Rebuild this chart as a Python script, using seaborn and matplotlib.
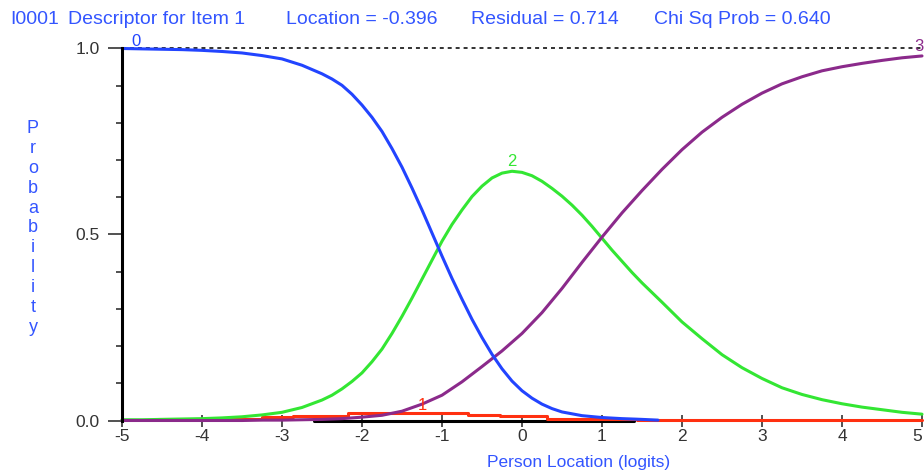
import numpy as np
import pandas as pd
import seaborn as sns
import matplotlib
matplotlib.use("Agg")
import matplotlib.pyplot as plt
from matplotlib.ticker import MultipleLocator

# category probability curves (x in logits)
x0 = [-5.0, -4.75, -4.5, -4.25, -4.0, -3.75, -3.5, -3.25, -3.0, -2.75,
      -2.5, -2.375, -2.25, -2.125, -2.0, -1.875, -1.75, -1.625, -1.5, -1.375,
      -1.25, -1.125, -1.0, -0.875, -0.75, -0.625, -0.5, -0.375, -0.25, -0.125,
      0.0, 0.125, 0.25, 0.375, 0.5, 0.75, 1.0, 1.25, 1.5, 1.7]
p0 = [1.000, 0.999, 0.998, 0.997, 0.995, 0.992, 0.988, 0.981, 0.972, 0.955,
      0.932, 0.918, 0.901, 0.877, 0.848, 0.815, 0.777, 0.731, 0.681, 0.625,
      0.566, 0.504, 0.442, 0.382, 0.326, 0.272, 0.223, 0.178, 0.139, 0.106,
      0.080, 0.060, 0.044, 0.032, 0.023, 0.013, 0.008, 0.005, 0.003, 0.001]

x2 = [-5.0, -4.75, -4.5, -4.25, -4.0, -3.75, -3.5, -3.25, -3.0, -2.75,
      -2.5, -2.375, -2.25, -2.125, -2.0, -1.875, -1.75, -1.625, -1.5, -1.375,
      -1.25, -1.125, -1.0, -0.875, -0.75, -0.625, -0.5, -0.375, -0.25, -0.125,
      0.0, 0.125, 0.25, 0.375, 0.5, 0.625, 0.75, 0.875, 1.0, 1.125,
      1.25, 1.375, 1.5, 1.75, 2.0, 2.25, 2.5, 2.75, 3.0, 3.25,
      3.5, 3.75, 4.0, 4.25, 4.5, 4.75, 5.0]
p2 = [0.002, 0.002, 0.003, 0.004, 0.005, 0.007, 0.010, 0.015, 0.022, 0.035,
      0.055, 0.068, 0.085, 0.105, 0.128, 0.158, 0.192, 0.234, 0.280, 0.329,
      0.380, 0.431, 0.482, 0.527, 0.566, 0.602, 0.630, 0.652, 0.665, 0.670,
      0.667, 0.658, 0.643, 0.624, 0.603, 0.579, 0.552, 0.522, 0.490, 0.458,
      0.428, 0.398, 0.370, 0.318, 0.265, 0.220, 0.177, 0.142, 0.113, 0.088,
      0.070, 0.056, 0.045, 0.036, 0.029, 0.022, 0.017]

x3 = [-5.0, -4.75, -4.5, -4.25, -4.0, -3.75, -3.5, -3.25, -3.0, -2.75,
      -2.5, -2.25, -2.0, -1.75, -1.5, -1.25, -1.0, -0.75, -0.5, -0.25,
      0.0, 0.25, 0.5, 0.75, 1.0, 1.25, 1.5, 1.75, 2.0, 2.25,
      2.5, 2.75, 3.0, 3.25, 3.5, 3.75, 4.0, 4.25, 4.5, 4.75, 5.0]
p3 = [0.000, 0.000, 0.000, 0.000, 0.000, 0.000, 0.000, 0.001, 0.001, 0.002,
      0.003, 0.005, 0.009, 0.014, 0.025, 0.044, 0.068, 0.104, 0.145, 0.187,
      0.234, 0.290, 0.355, 0.425, 0.493, 0.558, 0.618, 0.675, 0.728, 0.775,
      0.815, 0.850, 0.880, 0.905, 0.924, 0.940, 0.951, 0.960, 0.968, 0.975,
      0.980]

# category 1 is drawn as a step line
red_edges = [-4.55, -3.25, -2.86, -2.17, -0.67, -0.28, 0.31, 1.44, 5.0]
red_levels = [0.005, 0.009, 0.013, 0.019, 0.015, 0.011, 0.005, 0.001]
black_x = [-2.6, 1.4]
black_y = [0.0, 0.0]

title_parts = ["I0001", "Descriptor for Item 1", "Location = -0.396",
               "Residual = 0.714", "Chi Sq Prob = 0.640"]
title_pos = [10, 68, 286, 471, 654]   # pixel x of each part

sns.set_style("white")
plt.rcParams['font.family'] = ['Liberation Sans', 'DejaVu Sans']

TXT = '#3355ff'
BLUE = '#2244ff'
GREEN = '#33e633'
PURPLE = '#8b2a8b'
RED = '#ff3010'

W, H = 924, 473
fig = plt.figure(figsize=(W / 100, H / 100), dpi=100)
ax = fig.add_axes([122 / W, 1 - 420.5 / H, 800 / W, 372 / H])

ax.axhline(1.0, color='#222222', lw=1.3, ls=(0, (2.2, 2.2)), clip_on=False, zorder=1)

sns.lineplot(x=black_x, y=black_y, color='black', lw=2.2, ax=ax, clip_on=False)
sns.lineplot(x=red_edges, y=red_levels + [red_levels[-1]], color=RED, lw=2.2,
             drawstyle='steps-post', ax=ax, clip_on=False)
sns.lineplot(x=x2, y=p2, color=GREEN, lw=2.2, ax=ax, clip_on=False)
sns.lineplot(x=x3, y=p3, color=PURPLE, lw=2.2, ax=ax, clip_on=False)
sns.lineplot(x=x0, y=p0, color=BLUE, lw=2.2, ax=ax, clip_on=False)

# category labels
ax.text(-4.82, 1.0, "0", color=BLUE, ha='center', va='bottom', fontsize=12)
ax.text(-1.24, red_levels[3], "1", color=RED, ha='center', va='bottom', fontsize=12)
ax.text(-0.13, 0.675, "2", color=GREEN, ha='center', va='bottom', fontsize=12)
ax.text(5.02, 0.985, "3", color=PURPLE, ha='right', va='bottom', fontsize=12)

ax.set_xlim(-5, 5)
ax.set_ylim(0, 1)
ax.set_xticks(range(-5, 6))
ax.set_xticklabels([str(v) for v in range(-5, 6)])
ax.get_xticklabels()[-1].set_horizontalalignment('right')
ax.set_yticks([0, 0.5, 1.0])
ax.set_yticklabels(["0.0", "0.5", "1.0"])
ax.yaxis.set_minor_locator(MultipleLocator(0.1))

for s in ['top', 'right', 'bottom']:
    ax.spines[s].set_visible(False)
ax.spines['left'].set_linewidth(2.2)
ax.spines['left'].set_color('black')

ax.tick_params(axis='y', which='major', direction='out', length=10, width=1.2,
               color='#333333', labelsize=12.5, labelcolor='#333333', pad=6, left=True)
ax.tick_params(axis='y', which='minor', direction='out', length=4, width=1.2,
               color='#333333', left=True)
ax.tick_params(axis='x', which='major', direction='inout', length=8, width=1.2,
               color='#333333', labelsize=12.5, labelcolor='#333333', pad=2, bottom=True)

ax.set_xlabel("")
ax.set_ylabel("")
fig.text(579 / W, 1 - 462 / H, "Person Location (logits)", color=TXT,
         ha='center', va='center', fontsize=12.5)
fig.text(33 / W, 1 - 228 / H, "\n".join("Probability"), color=TXT,
         ha='center', va='center', multialignment='center', fontsize=13,
         linespacing=1.22)

for txt, px in zip(title_parts, title_pos):
    fig.text(px / W, 1 - 19 / H, txt, color=TXT, ha='left', va='center', fontsize=14)

fig.savefig("out.png", dpi=100)
